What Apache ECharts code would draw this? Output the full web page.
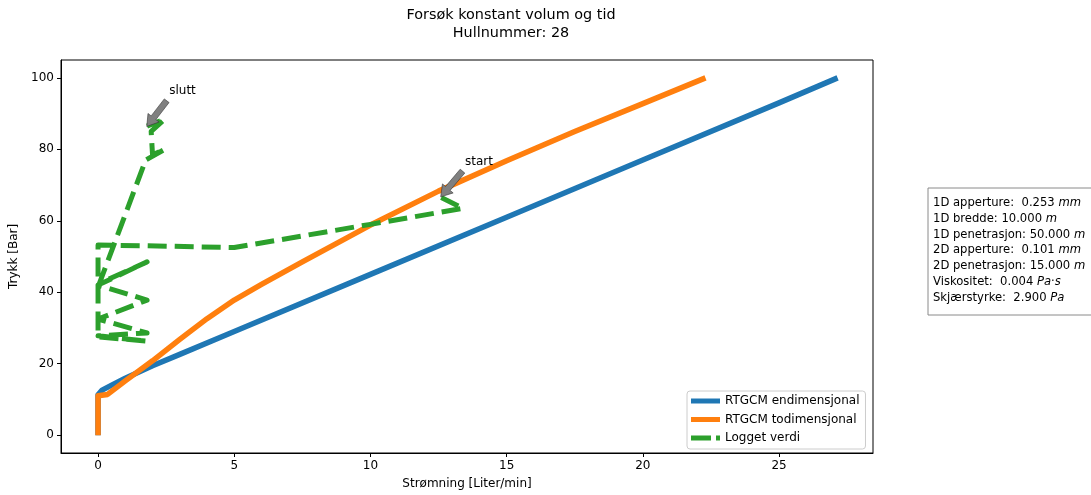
<!DOCTYPE html>
<html>
<head>
<meta charset="utf-8">
<script src="https://cdn.jsdelivr.net/npm/echarts@6/dist/echarts.min.js"></script>
<style>
  html, body { margin: 0; padding: 0; background: #fff; }
  #chart { width: 1091px; height: 495px; }
</style>
</head>
<body>
<div id="chart"></div>
<script>
// Model curves: flow [Liter/min] vs pressure [Bar]
const flow1D = [0, 0, 0.15, 0.5, 1, 2, 3, 5, 10, 15, 20, 25, 27.15];
const pressure1D = [0, 11.3, 12.6, 14.0, 15.9, 19.4, 22.6, 29.0, 45.0, 61.0, 77.0, 93.0, 100];

const flow2D = [0, 0, 0.35, 1, 2, 3, 4, 5, 6, 7.5, 10, 12.5, 15, 17.5, 20, 22.3];
const pressure2D = [0, 11.0, 11.4, 15.2, 20.8, 26.8, 32.6, 37.8, 42.2, 48.5, 58.8, 68.3, 76.8, 85.0, 92.8, 100];

// Logged measurements, in time order
const flowLogged = [12.6, 13.4, 10.0, 5.0, 1.8, 0.0, 0.0, 1.8, 0.0, 1.8, 0.0, 1.8, 0.0, 1.8, 0.05, 1.75, 2.45, 2.0, 1.95, 2.45, 1.8];
const pressureLogged = [66.5, 63.5, 59.0, 52.5, 53.0, 53.2, 27.5, 26.3, 27.8, 28.6, 32.5, 37.8, 42.0, 48.5, 42.5, 77.0, 80.0, 78.5, 85.0, 88.5, 86.5];

// Axis ticks
const xTicks = [0, 5, 10, 15, 20, 25];
const yTicks = [0, 20, 40, 60, 80, 100];

// Annotations: label anchor, arrow tail and arrow head in data units
const annoSlutt = { text: 'slutt', label: [2.63, 94.5], tail: [2.52, 93.6], head: [1.79, 86.4] };
const annoStart = { text: 'start', label: [13.49, 74.7], tail: [13.38, 73.9], head: [12.58, 66.7] };
const annotations = [annoSlutt, annoStart];

const zip = (xs, ys) => xs.map((x, i) => [x, ys[i]]);

const FONT = 'DejaVu Sans';
const chart = echarts.init(document.getElementById('chart'), null, { renderer: 'canvas' });

const labelPoint = (a) => ({ coord: a.label, value: a.text });

const option = {
  animation: false,
  textStyle: { fontFamily: FONT, color: '#000' },
  grid: {
    left: 61, top: 60, width: 812, height: 395,
    show: true, borderColor: '#000', borderWidth: 1, backgroundColor: 'transparent'
  },
  xAxis: {
    type: 'value', min: -1.36, max: 28.45,
    name: 'Strømning [Liter/min]', nameLocation: 'middle', nameGap: 25,
    nameTextStyle: { fontSize: 12, fontFamily: FONT, color: '#000' },
    axisLine: { show: true, onZero: false, lineStyle: { color: '#000', width: 1 } },
    axisTick: { show: true, inside: false, length: 4, customValues: xTicks, lineStyle: { color: '#000' } },
    axisLabel: { show: true, margin: 7, fontSize: 12, color: '#000', customValues: xTicks },
    splitLine: { show: false }
  },
  yAxis: {
    type: 'value', min: -5, max: 105,
    name: 'Trykk [Bar]', nameLocation: 'middle', nameGap: 37,
    nameTextStyle: { fontSize: 12, fontFamily: FONT, color: '#000' },
    axisLine: { show: true, onZero: false, lineStyle: { color: '#000', width: 1 } },
    axisTick: { show: true, inside: false, length: 4, customValues: yTicks, lineStyle: { color: '#000' } },
    axisLabel: { show: true, margin: 7, fontSize: 12, color: '#000', customValues: yTicks },
    splitLine: { show: false }
  },
  legend: {
    orient: 'vertical', left: 687, top: 391,
    padding: [3, 6, 4, 4], itemGap: 4.5, itemWidth: 29, itemHeight: 5,
    backgroundColor: '#fff', borderColor: '#cccccc', borderWidth: 1, borderRadius: 3,
    textStyle: { fontSize: 12, fontFamily: FONT, color: '#000', lineHeight: 14 },
    data: [
      { name: 'RTGCM endimensjonal', icon: 'rect' },
      { name: 'RTGCM todimensjonal', icon: 'rect' },
      { name: 'Logget verdi', icon: 'path://M0,0H20V5H0ZM25,0H29V5H25Z' }
    ]
  },
  series: [
    {
      name: 'RTGCM endimensjonal', type: 'line', data: zip(flow1D, pressure1D),
      showSymbol: false, symbol: 'none', smooth: false,
      lineStyle: { color: '#1f77b4', width: 5.5, cap: 'butt', join: 'round' },
      itemStyle: { color: '#1f77b4' }, z: 2
    },
    {
      name: 'RTGCM todimensjonal', type: 'line', data: zip(flow2D, pressure2D),
      showSymbol: false, symbol: 'none', smooth: false,
      lineStyle: { color: '#ff7f0e', width: 5.5, cap: 'butt', join: 'round' },
      itemStyle: { color: '#ff7f0e' }, z: 3
    },
    {
      name: 'Logget verdi', type: 'line', data: zip(flowLogged, pressureLogged),
      showSymbol: false, symbol: 'none', smooth: false,
      lineStyle: { color: '#2ca02c', width: 5, type: [19, 8], cap: 'butt', join: 'round' },
      itemStyle: { color: '#2ca02c' }, z: 4,
      markPoint: {
        silent: true, symbol: 'rect', symbolSize: 1,
        itemStyle: { color: 'rgba(0,0,0,0)' },
        label: {
          show: true, position: [0, 0], align: 'left', verticalAlign: 'bottom',
          fontSize: 12, fontFamily: FONT, color: '#000',
          formatter: (p) => p.name
        },
        data: annotations.map((a) => ({ coord: a.label, name: a.text }))
      }
    }
  ],
  graphic: [
    {
      id: 'title', type: 'text', x: 511, y: 6, z: 10,
      style: {
        text: 'Forsøk konstant volum og tid\nHullnummer: 28',
        align: 'center', verticalAlign: 'top', fontSize: 14.4, lineHeight: 18,
        fontFamily: FONT, fill: '#000'
      }
    },
    {
      id: 'infobox', type: 'group', x: 928, y: 188, z: 10,
      children: [
        {
          type: 'rect', shape: { x: 0, y: 0, width: 175, height: 127 },
          style: { fill: '#fff', stroke: '#8a8a8a', lineWidth: 1 }
        },
        {
          type: 'text', x: 5, y: 7,
          style: {
            text: [
              '1D apperture:  0.253 {i|mm}',
              '1D bredde: 10.000 {i|m}',
              '1D penetrasjon: 50.000 {i|m}',
              '2D apperture:  0.101 {i|mm}',
              '2D penetrasjon: 15.000 {i|m}',
              'Viskositet:  0.004 {i|Pa}·{i|s}',
              'Skjærstyrke:  2.900 {i|Pa}'
            ].join('\n'),
            fontSize: 11.6, lineHeight: 15.8, fontFamily: FONT, fill: '#000',
            rich: {
              i: { fontStyle: 'italic', fontSize: 11.6, lineHeight: 15.8, fontFamily: FONT, fill: '#000' }
            }
          }
        }
      ]
    }
  ]
};

chart.setOption(option);

// Annotation arrows: filled grey arrow shapes placed from the data coordinates
function arrowPolygon(tail, head) {
  const t = chart.convertToPixel({ gridIndex: 0 }, tail);
  const h = chart.convertToPixel({ gridIndex: 0 }, head);
  const dx = h[0] - t[0], dy = h[1] - t[1];
  const len = Math.hypot(dx, dy);
  const ux = dx / len, uy = dy / len;
  const nx = -uy, ny = ux;
  const w = 3, hw = 7, hl = 11;
  const bx = h[0] - ux * hl, by = h[1] - uy * hl;
  return [
    [t[0] + nx * w, t[1] + ny * w],
    [bx + nx * w, by + ny * w],
    [bx + nx * hw, by + ny * hw],
    [h[0], h[1]],
    [bx - nx * hw, by - ny * hw],
    [bx - nx * w, by - ny * w],
    [t[0] - nx * w, t[1] - ny * w]
  ];
}

chart.setOption({
  graphic: annotations.map((a, i) => ({
    id: 'arrow' + i, type: 'polygon', z: 20, silent: true,
    shape: { points: arrowPolygon(a.tail, a.head) },
    style: { fill: '#808080', stroke: '#333', lineWidth: 0.6 }
  }))
});
</script>
</body>
</html>
